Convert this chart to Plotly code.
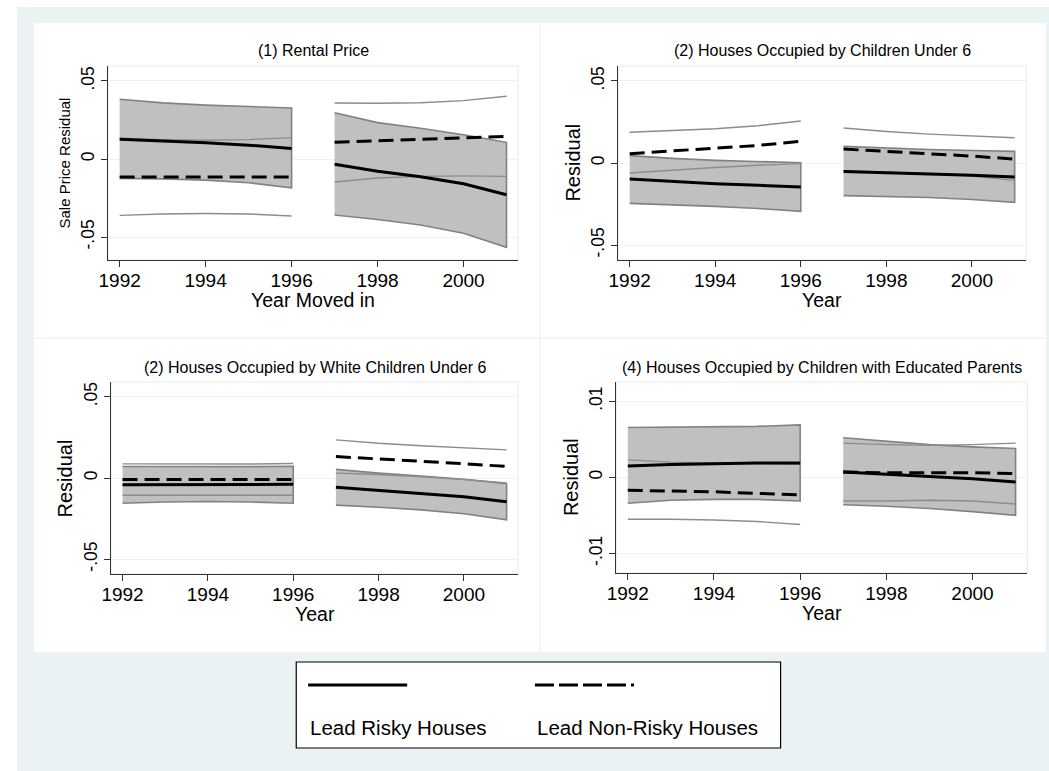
import plotly.graph_objects as go

# Year of move-in; the two periods are fitted separately
years = [1992, 1993, 1994, 1995, 1996, 1997, 1998, 1999, 2000, 2001]

# (1) Rental price
p1_risky    = [0.0126, 0.0117, 0.0105, 0.0089, 0.0068, -0.0034, -0.0078, -0.0114, -0.0158, -0.0229]
p1_risky_lo = [-0.0124, -0.0127, -0.0135, -0.0152, -0.0184, -0.0359, -0.0387, -0.0423, -0.0476, -0.0566]
p1_risky_hi = [0.0383, 0.0360, 0.0345, 0.0335, 0.0327, 0.0297, 0.0233, 0.0197, 0.0156, 0.0107]
p1_safe     = [-0.0115, -0.0116, -0.0116, -0.0116, -0.0115, 0.0107, 0.0117, 0.0126, 0.0136, 0.0145]
p1_safe_lo  = [-0.0361, -0.0352, -0.0349, -0.0352, -0.0365, -0.0147, -0.0122, -0.0111, -0.0108, -0.0111]
p1_safe_hi  = [0.0133, 0.0124, 0.0120, 0.0124, 0.0137, 0.0359, 0.0357, 0.0361, 0.0374, 0.0402]

# (2) Houses occupied by children under 6
p2_risky    = [-0.0098, -0.0114, -0.0126, -0.0136, -0.0146, -0.0052, -0.0058, -0.0065, -0.0074, -0.0085]
p2_risky_lo = [-0.0246, -0.0254, -0.0264, -0.0277, -0.0295, -0.0199, -0.0203, -0.0210, -0.0222, -0.0240]
p2_risky_hi = [0.0045, 0.0028, 0.0016, 0.0008, 0.0002, 0.0101, 0.0090, 0.0082, 0.0076, 0.0071]
p2_safe     = [0.0057, 0.0073, 0.0089, 0.0107, 0.0132, 0.0085, 0.0071, 0.0058, 0.0042, 0.0024]
p2_safe_lo  = [-0.0061, -0.0042, -0.0027, -0.0014, -0.0004, -0.0047, -0.0055, -0.0064, -0.0080, -0.0106]
p2_safe_hi  = [0.0187, 0.0197, 0.0209, 0.0227, 0.0256, 0.0213, 0.0192, 0.0176, 0.0163, 0.0154]

# (2) Houses occupied by white children under 6
p3_risky    = [-0.0041, -0.0040, -0.0040, -0.0040, -0.0039, -0.0057, -0.0075, -0.0093, -0.0115, -0.0146]
p3_risky_lo = [-0.0155, -0.0148, -0.0145, -0.0148, -0.0155, -0.0167, -0.0180, -0.0196, -0.0220, -0.0258]
p3_risky_hi = [0.0071, 0.0070, 0.0070, 0.0070, 0.0072, 0.0053, 0.0030, 0.0012, -0.0008, -0.0035]
p3_safe     = [-0.0010, -0.0010, -0.0010, -0.0010, -0.0010, 0.0132, 0.0118, 0.0103, 0.0088, 0.0071]
p3_safe_lo  = [-0.0106, -0.0105, -0.0105, -0.0105, -0.0106, 0.0030, 0.0022, 0.0007, -0.0009, -0.0031]
p3_safe_hi  = [0.0087, 0.0086, 0.0086, 0.0086, 0.0089, 0.0235, 0.0214, 0.0199, 0.0185, 0.0173]

# (4) Houses occupied by children with educated parents
p4_risky    = [0.0015, 0.0017, 0.0018, 0.0019, 0.0019, 0.0007, 0.0004, 0.0001, -0.0002, -0.0006]
p4_risky_lo = [-0.0034, -0.0030, -0.0029, -0.0029, -0.0031, -0.0036, -0.0038, -0.0041, -0.0045, -0.0050]
p4_risky_hi = [0.00655, 0.0066, 0.0066, 0.0067, 0.0069, 0.0052, 0.0047, 0.0043, 0.0040, 0.0038]
p4_safe     = [-0.0017, -0.0018, -0.0019, -0.0021, -0.0023, 0.0007, 0.0006, 0.0006, 0.0006, 0.0005]
p4_safe_lo  = [-0.0055, -0.0055, -0.0056, -0.0058, -0.0062, -0.0031, -0.0031, -0.0030, -0.0031, -0.0035]
p4_safe_hi  = [0.0023, 0.0020, 0.0019, 0.0018, 0.0017, 0.0045, 0.0043, 0.0042, 0.0043, 0.0045]

panel_titles = [
    "(1) Rental Price",
    "(2) Houses Occupied by Children Under 6",
    "(2) Houses Occupied by White Children Under 6",
    "(4) Houses Occupied by Children with Educated Parents",
]
y_titles = ["Sale Price Residual", "Residual", "Residual", "Residual"]
x_titles = ["Year Moved in", "Year", "Year", "Year"]
x_ticks = [1992, 1994, 1996, 1998, 2000]
y_ticks = [[-0.05, 0, 0.05], [-0.05, 0, 0.05], [-0.05, 0, 0.05], [-0.01, 0, 0.01]]
y_ticktext = [["-.05", "0", ".05"], ["-.05", "0", ".05"], ["-.05", "0", ".05"], ["-.01", "0", ".01"]]
legend_labels = ["Lead Risky Houses", "Lead Non-Risky Houses"]

panels = [
    (p1_risky, p1_risky_lo, p1_risky_hi, p1_safe, p1_safe_lo, p1_safe_hi),
    (p2_risky, p2_risky_lo, p2_risky_hi, p2_safe, p2_safe_lo, p2_safe_hi),
    (p3_risky, p3_risky_lo, p3_risky_hi, p3_safe, p3_safe_lo, p3_safe_hi),
    (p4_risky, p4_risky_lo, p4_risky_hi, p4_safe, p4_safe_lo, p4_safe_hi),
]

W, H = 1049, 771
BG = "#eaf2f3"
FONT = "Liberation Sans, Arial, sans-serif"

# plot-area boxes in pixels: (left, right, top, bottom)
boxes = [(99, 513, 66, 260), (614, 1026, 66, 260), (102, 513, 382, 574), (612, 1027, 382, 573)]
y_ranges = [[-0.0647, 0.0596], [-0.0591, 0.0591], [-0.0591, 0.0591], [-0.01257, 0.01253]]
x_range = [1991.73, 2001.27]


def px(x):
    return x / W


def py(y):
    return 1 - y / H


fig = go.Figure()
segments = [slice(0, 5), slice(5, 10)]

for i, (risky, r_lo, r_hi, safe, s_lo, s_hi) in enumerate(panels):
    xa = "x" if i == 0 else f"x{i + 1}"
    ya = "y" if i == 0 else f"y{i + 1}"
    for seg in segments:
        xs = years[seg]
        # confidence band of risky houses
        fig.add_trace(go.Scatter(
            x=xs + xs[::-1], y=r_hi[seg] + r_lo[seg][::-1],
            fill="toself", fillcolor="rgb(192,192,192)",
            line=dict(color="rgb(130,130,130)", width=1.6),
            mode="lines", xaxis=xa, yaxis=ya, showlegend=False, hoverinfo="skip"))
    for seg in segments:
        xs = years[seg]
        # confidence interval of non-risky houses
        for bound in (s_hi, s_lo):
            fig.add_trace(go.Scatter(
                x=xs, y=bound[seg], mode="lines", line=dict(color="rgb(140,140,140)", width=1.4),
                xaxis=xa, yaxis=ya, showlegend=False, hoverinfo="skip"))
    for seg in segments:
        xs = years[seg]
        fig.add_trace(go.Scatter(
            x=xs, y=risky[seg], mode="lines", line=dict(color="black", width=3),
            xaxis=xa, yaxis=ya, showlegend=False))
        fig.add_trace(go.Scatter(
            x=xs, y=safe[seg], mode="lines", line=dict(color="black", width=3, dash="15px,7px"),
            xaxis=xa, yaxis=ya, showlegend=False))

shapes = []
annotations = []

# page backgrounds
shapes.append(dict(type="rect", xref="paper", yref="paper", x0=px(7), x1=1, y0=0, y1=py(7),
                   fillcolor=BG, line_width=0, layer="below"))
shapes.append(dict(type="rect", xref="paper", yref="paper", x0=px(24), x1=px(1046), y0=py(652), y1=py(23),
                   fillcolor="white", line_width=0, layer="below"))
shapes.append(dict(type="line", xref="paper", yref="paper", x0=px(535), x1=px(535), y0=py(652), y1=py(23),
                   line=dict(color="#e6eef0", width=1), layer="below"))
shapes.append(dict(type="line", xref="paper", yref="paper", x0=px(24), x1=px(1046), y0=py(338), y1=py(338),
                   line=dict(color="#e6eef0", width=1), layer="below"))

layout_axes = {}
for i, (l, r, t, b) in enumerate(boxes):
    sx = "" if i == 0 else str(i + 1)
    layout_axes[f"xaxis{sx}"] = dict(
        domain=[px(l), px(r)], range=x_range, anchor=f"y{sx}",
        tickvals=x_ticks, ticks="outside", ticklen=6, tickcolor="#333", tickwidth=1.2,
        showline=True, linecolor="#333", linewidth=1.2, showgrid=False, zeroline=False,
        ticklabelstandoff=-3,
        tickfont=dict(family=FONT, size=19, color="black"))
    layout_axes[f"yaxis{sx}"] = dict(
        domain=[py(b), py(t)], range=y_ranges[i], anchor=f"x{sx}",
        tickvals=y_ticks[i], ticktext=y_ticktext[i], tickangle=-90,
        ticks="outside", ticklen=6, tickcolor="#333", tickwidth=1.2,
        showline=True, linecolor="#333", linewidth=1.2,
        showgrid=True, gridcolor=BG, gridwidth=1.4, zeroline=False,
        tickfont=dict(family=FONT, size=17.5, color="black"))
    # light frame around plot area (top and right edges)
    shapes.append(dict(type="rect", xref="paper", yref="paper", x0=px(l), x1=px(r), y0=py(b), y1=py(t),
                       line=dict(color="#e3ecee", width=1), fillcolor="rgba(0,0,0,0)", layer="below"))
    annotations.append(dict(text=panel_titles[i], xref="paper", yref="paper",
                            x=px((l + r) / 2), y=py(t - 15), xanchor="center", yanchor="middle",
                            showarrow=False, font=dict(family=FONT, size=16, color="black")))
    annotations.append(dict(text=x_titles[i], xref="paper", yref="paper",
                            x=px((l + r) / 2), y=py(b + 40), xanchor="center", yanchor="middle",
                            showarrow=False, font=dict(family=FONT, size=19.5, color="black")))
    ysz = 15 if i == 0 else 20
    yx = l - 44 if i == 0 else l - 46
    annotations.append(dict(text=y_titles[i], xref="paper", yref="paper",
                            x=px(yx), y=py((t + b) / 2), xanchor="center", yanchor="middle", textangle=-90,
                            showarrow=False, font=dict(family=FONT, size=ysz, color="black")))

# legend box
shapes.append(dict(type="rect", xref="paper", yref="paper", x0=px(289), x1=px(778), y0=py(748), y1=py(662),
                   fillcolor="white", line=dict(color="black", width=1.2)))
shapes.append(dict(type="line", xref="paper", yref="paper", x0=px(301), x1=px(401), y0=py(685), y1=py(685),
                   line=dict(color="black", width=3)))
shapes.append(dict(type="line", xref="paper", yref="paper", x0=px(530), x1=px(630), y0=py(685), y1=py(685),
                   line=dict(color="black", width=3, dash="19px,5px")))
annotations.append(dict(text=legend_labels[0], xref="paper", yref="paper", x=px(301), y=py(727),
                        xanchor="left", yanchor="middle", showarrow=False,
                        font=dict(family=FONT, size=20.5, color="black")))
annotations.append(dict(text=legend_labels[1], xref="paper", yref="paper", x=px(530), y=py(727),
                        xanchor="left", yanchor="middle", showarrow=False,
                        font=dict(family=FONT, size=20.5, color="black")))

fig.update_layout(
    width=W, height=H, margin=dict(l=0, r=0, t=0, b=0),
    paper_bgcolor="white", plot_bgcolor="white",
    shapes=shapes, annotations=annotations, showlegend=False,
    **layout_axes)

# keep the page flush with the window edges
fig.write_html("out.html", post_script="document.body.style.margin='0';")
